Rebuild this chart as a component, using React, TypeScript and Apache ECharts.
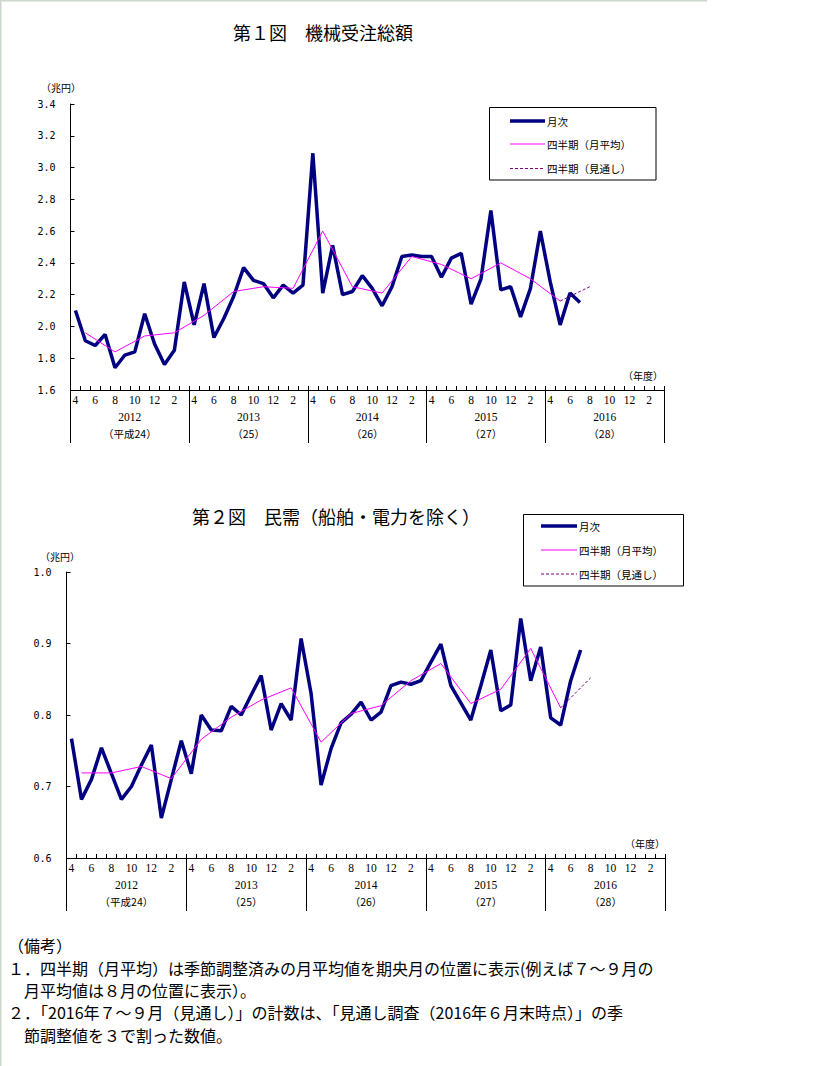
import React, { useEffect, useRef } from 'react';
import * as echarts from 'echarts';

// ---------- data ----------
const fiscalYears = ['2012', '2013', '2014', '2015', '2016'];
const eraLabels = ['（平成24）', '（25）', '（26）', '（27）', '（28）'];
const monthsInFY = [4, 5, 6, 7, 8, 9, 10, 11, 12, 1, 2, 3];
const categories = fiscalYears.flatMap((fy) => monthsInFY.map((m) => `${fy}/${m}`));

// 第1図 機械受注総額 (兆円), monthly from 2012/4 to 2016/7
const totalMonthly = [
  2.10, 1.91, 1.88, 1.95, 1.74, 1.82, 1.84, 2.08, 1.89, 1.76, 1.85, 2.28,
  2.01, 2.27, 1.93, 2.05, 2.19, 2.37, 2.29, 2.27, 2.18, 2.26, 2.21, 2.26,
  3.09, 2.21, 2.51, 2.20, 2.22, 2.32, 2.24, 2.13, 2.25, 2.44, 2.45, 2.44,
  2.44, 2.31, 2.43, 2.46, 2.14, 2.30, 2.73, 2.23, 2.25, 2.06, 2.24, 2.60,
  2.28, 2.01, 2.21, 2.15,
];
// quarterly monthly averages, 2012 Q1(Apr-Jun) .. 2016 Q1(Apr-Jun)
const totalQuarterly = [
  1.96, 1.84, 1.94, 1.96,
  2.07, 2.22, 2.25, 2.24,
  2.60, 2.25, 2.21, 2.44,
  2.39, 2.30, 2.40, 2.30,
  2.16,
];
const totalOutlook = 2.25; // 2016 Jul-Sep (見通し)

// 第2図 民需（船舶・電力を除く） (兆円)
const privateMonthly = [
  0.767, 0.682, 0.710, 0.754, 0.718, 0.682, 0.700, 0.730, 0.758, 0.656, 0.710, 0.764,
  0.718, 0.800, 0.779, 0.778, 0.812, 0.800, 0.828, 0.855, 0.779, 0.816, 0.793, 0.907,
  0.830, 0.702, 0.753, 0.789, 0.801, 0.818, 0.793, 0.804, 0.841, 0.846, 0.843, 0.848,
  0.874, 0.899, 0.841, 0.817, 0.793, 0.841, 0.891, 0.806, 0.814, 0.935, 0.848, 0.895,
  0.796, 0.786, 0.848, 0.891,
];
const privateQuarterly = [
  0.719, 0.719, 0.728, 0.711,
  0.766, 0.797, 0.821, 0.838,
  0.762, 0.802, 0.813, 0.848,
  0.872, 0.816, 0.836, 0.893,
  0.810,
];
const privateOutlook = 0.852;

const legendNames = ['月次', '四半期（月平均）', '四半期（見通し）'];

const noteLines = [
  '（備考）',
  '１．四半期（月平均）は季節調整済みの月平均値を期央月の位置に表示(例えば７～９月の',
  '　月平均値は８月の位置に表示）。',
  '２．「2016年７～９月（見通し）」の計数は、「見通し調査（2016年６月末時点）」の季',
  '　節調整値を３で割った数値。',
];

// ---------- styles ----------
const JP = '"Noto Sans CJK JP", "Noto Sans", sans-serif';
const SERIF = '"Liberation Serif", serif';
const MONO = '"DejaVu Sans Mono", monospace';
const NAVY = '#000080';
const PINK = '#ff00ff';
const PURPLE = '#800080';

const quarterPairs = (q: number[]) => q.map((v, i) => [3 * i + 1, v]);
const outlookPairs = (q: number[], o: number) => {
  const n = q.length;
  return [
    [3 * (n - 1) + 1, q[n - 1]],
    [3 * n + 1, o],
  ];
};

function monthAxis(gridIndex: number) {
  return {
    type: 'category',
    gridIndex,
    data: categories,
    position: 'bottom',
    boundaryGap: true,
    axisLine: { show: true, onZero: false, lineStyle: { color: '#000', width: 1 } },
    axisTick: { show: true, interval: 0, inside: true, length: 4, lineStyle: { color: '#000' } },
    axisLabel: {
      interval: 1,
      margin: 4,
      formatter: (v: string) => v.split('/')[1],
      fontFamily: SERIF,
      fontSize: 11.5,
      color: '#000',
    },
    splitLine: { show: false },
  };
}

function yearAxis(gridIndex: number) {
  return {
    type: 'category',
    gridIndex,
    data: fiscalYears.map((y, i) => `${y}\n${eraLabels[i]}`),
    position: 'bottom',
    boundaryGap: true,
    axisLine: { show: false, onZero: false },
    axisTick: { show: true, interval: 0, inside: false, length: 53, lineStyle: { color: '#000' } },
    axisLabel: {
      interval: 0,
      margin: 18,
      color: '#000',
      formatter: (v: string) => {
        const [a, b] = v.split('\n');
        return `{y|${a}}\n{e|${b}}`;
      },
      rich: {
        y: { fontFamily: SERIF, fontSize: 11.5, lineHeight: 17, color: '#000' },
        e: { fontFamily: JP, fontSize: 10.5, lineHeight: 17, color: '#000' },
      },
    },
    splitLine: { show: false },
  };
}

function valueAxis(gridIndex: number, min: number, max: number, interval: number) {
  return {
    type: 'value',
    gridIndex,
    min,
    max,
    interval,
    axisLine: { show: true, lineStyle: { color: '#000', width: 1 } },
    axisTick: { show: true, inside: true, length: 4, lineStyle: { color: '#000' } },
    splitLine: { show: false },
    axisLabel: {
      margin: 15,
      formatter: (v: number) => v.toFixed(1),
      fontFamily: MONO,
      fontSize: 10,
      color: '#000',
    },
  };
}

function seriesFor(xIdx: number, yIdx: number, monthly: number[], quarterly: number[], outlook: number) {
  return [
    {
      name: legendNames[0],
      type: 'line',
      xAxisIndex: xIdx,
      yAxisIndex: yIdx,
      data: monthly,
      symbol: 'none',
      lineStyle: { color: NAVY, width: 3.5 },
      z: 3,
    },
    {
      name: legendNames[1],
      type: 'line',
      xAxisIndex: xIdx,
      yAxisIndex: yIdx,
      data: quarterPairs(quarterly),
      symbol: 'none',
      lineStyle: { color: PINK, width: 1 },
      z: 4,
    },
    {
      name: legendNames[2],
      type: 'line',
      xAxisIndex: xIdx,
      yAxisIndex: yIdx,
      data: outlookPairs(quarterly, outlook),
      symbol: 'none',
      lineStyle: { color: PURPLE, width: 1, type: [3, 2] },
      z: 4,
    },
  ];
}

function legendBox(x: number, y: number, w: number, h: number, lx1: number, lx2: number, ys: number[], tx: number) {
  const els: any[] = [
    { type: 'rect', shape: { x, y, width: w, height: h }, style: { fill: '#fff', stroke: '#000', lineWidth: 1 } },
    { type: 'line', shape: { x1: lx1, y1: ys[0], x2: lx2, y2: ys[0] }, style: { stroke: NAVY, lineWidth: 3.5 } },
    { type: 'line', shape: { x1: lx1, y1: ys[1], x2: lx2, y2: ys[1] }, style: { stroke: PINK, lineWidth: 1 } },
    { type: 'line', shape: { x1: lx1, y1: ys[2], x2: lx2, y2: ys[2] }, style: { stroke: PURPLE, lineWidth: 1, lineDash: [3, 2] } },
  ];
  legendNames.forEach((n, i) => {
    els.push({
      type: 'text',
      x: tx,
      y: ys[i],
      style: { text: n, font: `10.5px ${JP}`, fill: '#000', textVerticalAlign: 'middle', verticalAlign: 'middle' },
    });
  });
  return els;
}

function text(t: string, x: number, y: number, size: number, family = JP) {
  return {
    type: 'text',
    x,
    y,
    style: { text: t, font: `${size}px ${family}`, fill: '#000', verticalAlign: 'middle', textVerticalAlign: 'middle' },
  };
}

function buildOption() {
  const graphics: any[] = [
    { type: 'line', shape: { x1: 0, y1: 0.75, x2: 707, y2: 0.75 }, style: { stroke: '#cdd6cd', lineWidth: 1.5 } },
    { type: 'line', shape: { x1: 0.75, y1: 0, x2: 0.75, y2: 1066 }, style: { stroke: '#cdd6cd', lineWidth: 1.5 } },
    text('第１図　機械受注総額', 233, 32, 18),
    text('第２図　民需（船舶・電力を除く）', 192, 516, 18),
    text('（兆円）', 41, 87, 10),
    text('（兆円）', 40, 556, 10),
    text('（年度）', 623, 375, 10),
    text('（年度）', 625, 843, 10),
    ...legendBox(489.5, 107.5, 166.5, 72.5, 510, 545, [121, 144, 168.5], 547),
    ...legendBox(523.5, 514.5, 160, 71.5, 541, 577, [526, 550, 574], 579),
  ];
  const noteYs = [945, 968, 990, 1012, 1035];
  noteLines.forEach((l, i) => graphics.push(text(l, 8, noteYs[i], 16)));

  return {
    animation: false,
    backgroundColor: '#fff',
    grid: [
      { left: 70.5, top: 104, width: 593.5, height: 286, containLabel: false },
      { left: 66.5, top: 572, width: 599, height: 286, containLabel: false },
    ],
    xAxis: [monthAxis(0), yearAxis(0), monthAxis(1), yearAxis(1)],
    yAxis: [valueAxis(0, 1.6, 3.4, 0.2), valueAxis(1, 0.6, 1.0, 0.1)],
    series: [
      ...seriesFor(0, 0, totalMonthly, totalQuarterly, totalOutlook),
      ...seriesFor(2, 1, privateMonthly, privateQuarterly, privateOutlook),
    ],
    graphic: { elements: graphics },
  };
}

export default function App() {
  const ref = useRef<HTMLDivElement>(null);
  useEffect(() => {
    document.body.style.margin = '0';
    const chart = echarts.init(ref.current as HTMLDivElement, null, { renderer: 'svg' });
    chart.setOption(buildOption() as any);
    return () => chart.dispose();
  }, []);
  return <div ref={ref} style={{ width: 828, height: 1066 }} />;
}
